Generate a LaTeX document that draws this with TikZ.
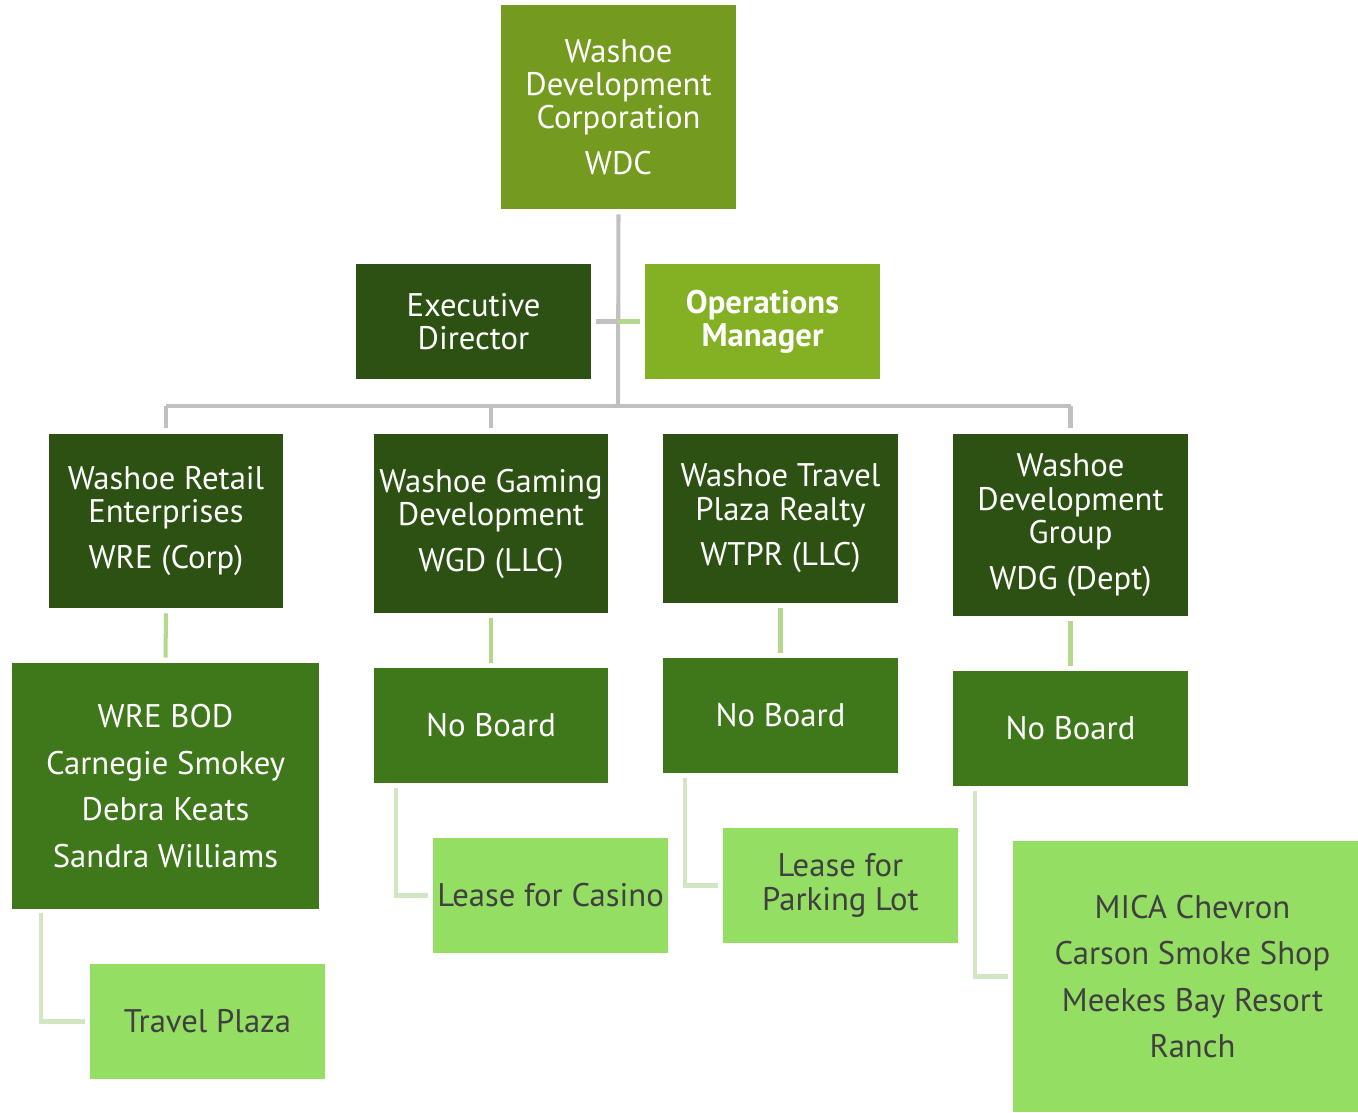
\documentclass[tikz,border=0pt]{standalone}
\usepackage{fontspec}
\setmainfont{PT Sans}
\usetikzlibrary{positioning}
\definecolor{topgreen}{HTML}{749B1F}
\definecolor{darkgreen}{HTML}{2C5112}
\definecolor{opsgreen}{HTML}{84B024}
\definecolor{boardgreen}{HTML}{3F771B}
\definecolor{leafgreen}{HTML}{95DE64}
\definecolor{leaftext}{HTML}{404040}
\definecolor{busgray}{HTML}{C0C0C0}
\definecolor{linkgreen}{HTML}{B3D78F}
\definecolor{palegreen}{HTML}{D3E6C4}
\tikzset{
  box/.style={rectangle, inner sep=0pt, align=center, font=\fontsize{18.6}{19}\selectfont},
  toporg/.style={box, fill=topgreen, text=white},
  unit/.style={box, fill=darkgreen, text=white},
  opsbox/.style={box, fill=opsgreen, text=white, font=\fontsize{18.6}{19}\selectfont\bfseries},
  board/.style={box, fill=boardgreen, text=white},
  leaf/.style={box, fill=leafgreen, text=leaftext},
  bus/.style={busgray, line width=2.3pt},
  link/.style={linkgreen, line width=2.3pt},
  elbow/.style={palegreen, line width=2.3pt},
}
\begin{document}
\begin{tikzpicture}[x=0.02cm, y=-0.02cm]
	\useasboundingbox (0,0) rectangle (1358,1112);
	\node[toporg, minimum width=4.7cm, minimum height=4.08cm] (wdc) at (618.5,107) {Washoe\\Development\\Corporation\\[7pt]WDC};
	\node[unit, minimum width=4.7cm, minimum height=2.3cm] (exec) at (473.5,321.5) {Executive\\Director};
	\node[opsbox, minimum width=4.7cm, minimum height=2.3cm] (ops) at (762.5,321.5) {Operations\\Manager};
	\node[unit, minimum width=4.68cm, minimum height=3.48cm] (wre) at (166,521) {Washoe Retail\\Enterprises\\[7pt]WRE (Corp)};
	\node[unit, minimum width=4.68cm, minimum height=3.58cm] (wgd) at (491,523.5) {Washoe Gaming\\Development\\[7pt]WGD (LLC)};
	\node[unit, minimum width=4.7cm, minimum height=3.38cm] (wtpr) at (780.5,518.5) {Washoe Travel\\Plaza Realty\\[7pt]WTPR (LLC)};
	\node[unit, minimum width=4.7cm, minimum height=3.64cm] (wdg) at (1070.5,525) {Washoe\\Development\\Group\\[7pt]WDG (Dept)};
	\node[board, minimum width=6.14cm, minimum height=4.92cm] (wrebod) at (165.5,786) {WRE BOD\\[7.5pt]Carnegie Smokey\\[7.5pt]Debra Keats\\[7.5pt]Sandra Williams};
	\node[board, minimum width=4.68cm, minimum height=2.3cm] (wgdboard) at (491,725.5) {No Board};
	\node[board, minimum width=4.7cm, minimum height=2.3cm] (wtprboard) at (780.5,715.5) {No Board};
	\node[board, minimum width=4.7cm, minimum height=2.3cm] (wdgboard) at (1070.5,728.5) {No Board};
	\node[leaf, minimum width=4.7cm, minimum height=2.3cm] (travel) at (207.5,1021.5) {Travel Plaza};
	\node[leaf, minimum width=4.7cm, minimum height=2.3cm] (casino) at (550.5,895.5) {Lease for Casino};
	\node[leaf, minimum width=4.7cm, minimum height=2.3cm] (parking) at (840.5,885.5) {Lease for\\Parking Lot};
	\node[leaf, minimum width=7.18cm, minimum height=5.42cm] (mica) at (1192.5,976.5) {MICA Chevron\\[7.5pt]Carson Smoke Shop\\[7.5pt]Meekes Bay Resort\\[7.5pt]Ranch};
	\coordinate (hub) at (618,406);
	\draw[bus, shorten <=0.1cm] (wdc.south) -- (hub);
	\draw[bus, shorten <=0.1cm] (exec.east) -- (exec.east -| hub);
	\draw[link, shorten >=0.1cm] (ops.west -| hub) -- (ops.west);
	\draw[bus] (wre.north |- hub) -- (wdg.north |- hub);
	\draw[bus, shorten >=0.12cm] (wre.north |- hub) -- (wre.north);
	\draw[bus, shorten >=0.12cm] (wgd.north |- hub) -- (wgd.north);
	\draw[bus, shorten >=0.12cm] (wdg.north |- hub) -- (wdg.north);
	\draw[link, shorten <=0.1cm, shorten >=0.1cm] (wre.south) -- (wrebod.north);
	\draw[link, shorten <=0.1cm, shorten >=0.1cm] (wgd.south) -- (wgdboard.north);
	\draw[link, shorten <=0.1cm, shorten >=0.1cm] (wtpr.south) -- (wtprboard.north);
	\draw[link, shorten <=0.1cm, shorten >=0.1cm] (wdg.south) -- (wdgboard.north);
	\draw[elbow, shorten <=0.08cm, shorten >=0.1cm] ([xshift=0.58cm]wrebod.south west) |- (travel.west);
	\draw[elbow, shorten <=0.1cm, shorten >=0.1cm] ([xshift=0.44cm]wgdboard.south west) |- (casino.west);
	\draw[elbow, shorten <=0.1cm, shorten >=0.1cm] ([xshift=0.44cm]wtprboard.south west) |- (parking.west);
	\draw[elbow, shorten <=0.1cm, shorten >=0.1cm] ([xshift=0.44cm]wdgboard.south west) |- (mica.west);
\end{tikzpicture}
\end{document}
